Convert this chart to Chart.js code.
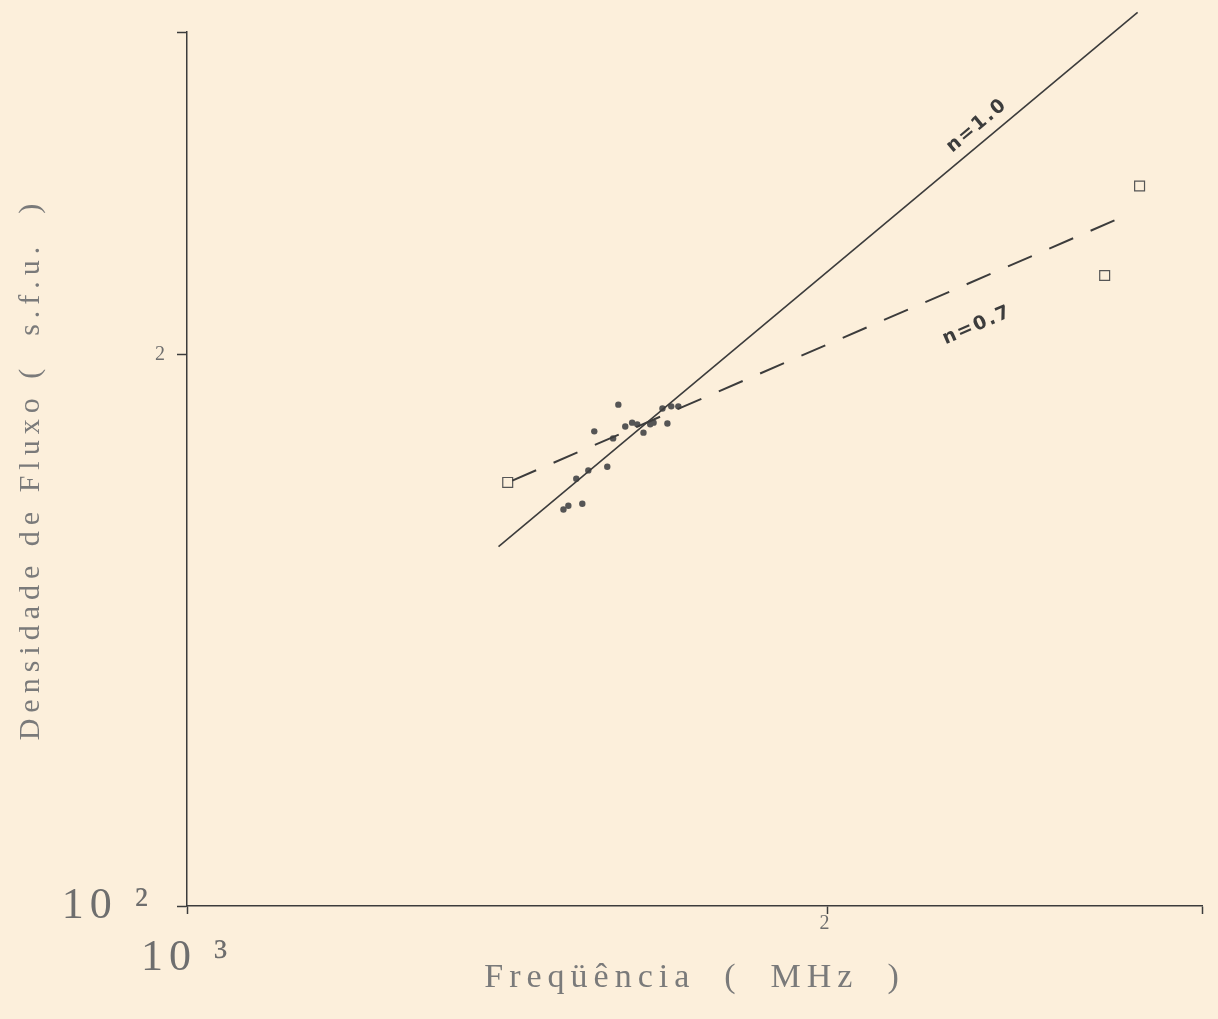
<!DOCTYPE html>
<html lang="pt">
<head>
<meta charset="utf-8">
<title>Densidade de Fluxo x Freqüência</title>
<script src="https://cdn.jsdelivr.net/npm/chart.js@4.4.1/dist/chart.umd.min.js"></script>
<style>
  html, body { margin: 0; padding: 0; background: #fcefdb; }
  #wrap { width: 1218px; height: 1019px; position: relative; }
</style>
</head>
<body>
<div id="wrap"><canvas id="flux-chart"></canvas></div>
<script>
// observed flux densities (s.f.u.) against frequency (MHz)
const obsFreq = [1503, 1511, 1534, 1524, 1544, 1576, 1586, 1554, 1607, 1619,
                 1628, 1639, 1651, 1657, 1682, 1673, 1595, 1689, 1702];
const obsFlux = [164.6, 165.4, 165.8, 171.1, 172.9, 173.7, 180.0, 181.6, 182.7, 183.6,
                 183.2, 181.3, 183.2, 183.6, 183.4, 186.9, 187.8, 187.4, 187.4];

// reference points (open squares)
const refFreq = [1415, 2700, 2804];
const refFlux = [170.3, 220.9, 247.2];

// fitted spectra
const fitN10Freq = [1401, 2798];
const fitN10Flux = [157.1, 307.5];
const fitN07Freq = [1422, 2744];
const fitN07Flux = [170.7, 237.4];

const lineLabelText = ['n=1.0', 'n=0.7'];
const lineLabelFreq = [2378, 2310];

const xTickValues = [1000, 2000, 3000];
const xTickLabels = ['10 ³', '2', ''];
const yTickValues = [100, 200, 300];
const yTickLabels = ['10 ² ', '2', ''];

const SERIF = '"Liberation Serif", "Times New Roman", serif';
const INK = '#3c3c3c';
const SPACING = '6px';

const toPoints = (xs, ys) => xs.map((x, i) => ({ x, y: ys[i] }));

// plotter-style lettering: wide spacing on every label
const spacingPlugin = {
    id: 'letterSpacing',
    beforeUpdate(chart) { chart.ctx.letterSpacing = SPACING; },
    beforeDraw(chart) { chart.ctx.letterSpacing = SPACING; }
};

// slanted "n=..." labels along each fitted line
const lineLabelsPlugin = {
    id: 'lineLabels',
    afterDatasetsDraw(chart, args, opts) {
        const ctx = chart.ctx;
        const xScale = chart.scales.x;
        opts.items.forEach((item, k) => {
            const pts = chart.getDatasetMeta(item.dataset).data;
            const p0 = pts[0], p1 = pts[pts.length - 1];
            const angle = Math.atan2(p1.y - p0.y, p1.x - p0.x);
            const px = xScale.getPixelForValue(lineLabelFreq[k]);
            const py = p0.y + (px - p0.x) * Math.tan(angle);
            const cx = px + Math.sin(angle) * item.offset;
            const cy = py - Math.cos(angle) * item.offset;
            ctx.save();
            ctx.translate(cx, cy);
            ctx.rotate(angle);
            ctx.letterSpacing = '2px';
            ctx.font = 'bold 19px "DejaVu Sans", sans-serif';
            ctx.fillStyle = INK;
            ctx.textAlign = 'center';
            ctx.textBaseline = 'middle';
            ctx.fillText(lineLabelText[k], 0, 0);
            ctx.restore();
        });
    }
};

const tickFont = (c) => c.index === 0
    ? { family: SERIF, size: 44, lineHeight: 2 }
    : { family: SERIF, size: 20, lineHeight: 1 };

new Chart(document.getElementById('flux-chart'), {
    type: 'scatter',
    data: {
        datasets: [
            { label: 'n=1.0', data: toPoints(fitN10Freq, fitN10Flux), showLine: true,
              borderColor: INK, borderWidth: 1.6, pointRadius: 0, clip: false },
            { label: 'n=0.7', data: toPoints(fitN07Freq, fitN07Flux), showLine: true,
              borderColor: INK, borderWidth: 2, borderDash: [26, 19], pointRadius: 0, clip: false },
            { label: 'observado', data: toPoints(obsFreq, obsFlux),
              pointRadius: 3.2, pointBackgroundColor: '#555', pointBorderWidth: 0 },
            { label: 'referência', data: toPoints(refFreq, refFlux), pointStyle: 'rect',
              pointRadius: 7, pointBackgroundColor: 'transparent', pointBorderColor: '#555', pointBorderWidth: 1.2 }
        ]
    },
    options: {
        responsive: true,
        maintainAspectRatio: false,
        animation: false,
        events: [],
        layout: { padding: { top: 32, right: 16, left: 0, bottom: 0 } },
        scales: {
            x: {
                type: 'logarithmic',
                min: 1000,
                max: 3000,
                afterBuildTicks: (s) => { s.ticks = xTickValues.map(v => ({ value: v })); },
                afterFit: (s) => { s.height = 113; },
                ticks: {
                    callback: (v, i) => xTickLabels[i],
                    font: tickFont,
                    color: '#6e6e6e',
                    padding: 0,
                    autoSkip: false,
                    maxRotation: 0
                },
                grid: { drawOnChartArea: false, tickLength: 8, tickColor: INK, tickWidth: 1.5 },
                border: { color: INK, width: 1.5 },
                title: {
                    display: true,
                    text: 'Freqüência  (  MHz  )',
                    font: { family: SERIF, size: 34 },
                    color: '#7a7a7a',
                    padding: { top: 0, bottom: 21 }
                }
            },
            y: {
                type: 'logarithmic',
                min: 100,
                max: 300,
                afterBuildTicks: (s) => { s.ticks = yTickValues.map(v => ({ value: v })); },
                afterFit: (s) => { s.width = 187; },
                ticks: {
                    callback: (v, i) => yTickLabels[i],
                    font: tickFont,
                    color: '#6e6e6e',
                    padding: 6,
                    autoSkip: false
                },
                grid: { drawOnChartArea: false, tickLength: 10, tickColor: INK, tickWidth: 1.5 },
                border: { color: INK, width: 1.5 },
                title: {
                    display: true,
                    text: 'Densidade de Fluxo (  s.f.u.  )',
                    font: { family: SERIF, size: 30 },
                    color: '#7a7a7a',
                    padding: { top: 13, bottom: 0 }
                }
            }
        },
        plugins: {
            legend: { display: false },
            tooltip: { enabled: false },
            lineLabels: {
                items: [
                    { dataset: 0, offset: 16 },
                    { dataset: 1, offset: -42 }
                ]
            }
        }
    },
    plugins: [spacingPlugin, lineLabelsPlugin]
});
</script>
</body>
</html>
